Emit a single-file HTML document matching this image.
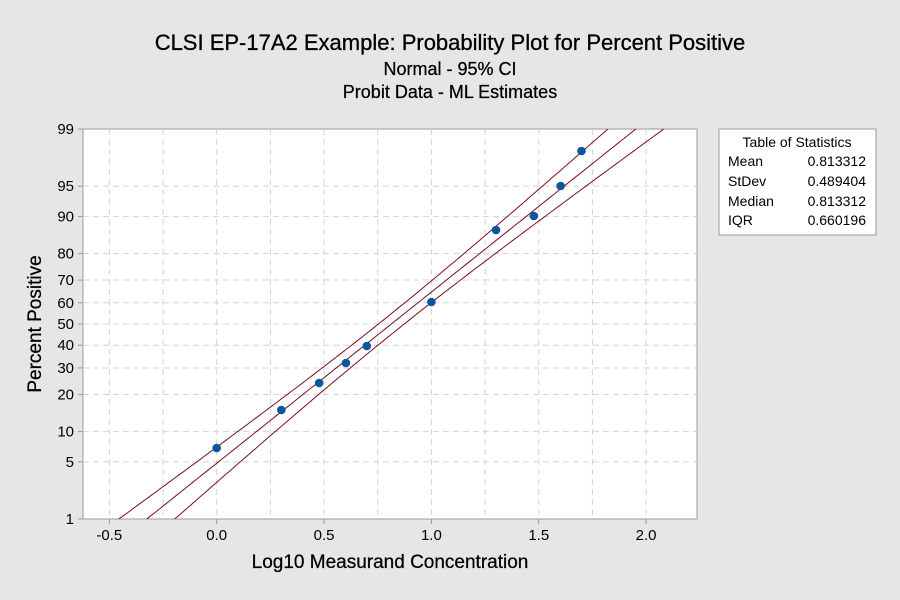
<!DOCTYPE html>
<html><head><meta charset="utf-8"><style>
body{margin:0;background:#e6e6e6;}
svg{display:block;font-family:"Liberation Sans",sans-serif;}
</style></head><body>
<svg id="s" width="900" height="600" xmlns="http://www.w3.org/2000/svg">
<rect width="900" height="600" fill="#e6e6e6"/>
<text x="450" y="50" font-size="22" text-anchor="middle" fill="#000" stroke="#000" stroke-width="0.3">CLSI EP-17A2 Example: Probability Plot for Percent Positive</text>
<text x="450" y="75" font-size="18" text-anchor="middle" fill="#000" stroke="#000" stroke-width="0.25">Normal - 95% CI</text>
<text x="450" y="98" font-size="18" text-anchor="middle" fill="#000" stroke="#000" stroke-width="0.25">Probit Data - ML Estimates</text>
<rect x="83" y="129" width="614" height="390" fill="#fff" stroke="#999" stroke-width="1"/>
<g id="grid" stroke="#d4d4d4" stroke-dasharray="6,4" stroke-width="1"></g>
<defs><clipPath id="c"><rect x="83" y="129" width="614" height="390"/></clipPath></defs>
<g id="lines" clip-path="url(#c)" fill="none" stroke="#7a1020" stroke-width="1"></g>
<g id="pts" fill="#0a56a0"></g>
<g id="ticks" font-size="15" fill="#000"></g>
<text x="390" y="568" font-size="19" text-anchor="middle" fill="#000" stroke="#000" stroke-width="0.25">Log10 Measurand Concentration</text>
<text transform="translate(41,324) rotate(-90)" font-size="19" text-anchor="middle" fill="#000" stroke="#000" stroke-width="0.25">Percent Positive</text>
<rect x="719" y="129" width="157" height="106" fill="#fff" stroke="#999"/>
<g font-size="14" fill="#000">
<text x="797" y="147" text-anchor="middle">Table of Statistics</text>
<text x="728" y="166">Mean</text><text x="866" y="166" text-anchor="end">0.813312</text>
<text x="728" y="186">StDev</text><text x="866" y="186" text-anchor="end">0.489404</text>
<text x="728" y="206">Median</text><text x="866" y="206" text-anchor="end">0.813312</text>
<text x="728" y="225">IQR</text><text x="866" y="225" text-anchor="end">0.660196</text>
</g>
</svg>
<script>
var NS="http://www.w3.org/2000/svg";
function el(p,t,a,txt){var e=document.createElementNS(NS,t);for(var k in a)e.setAttribute(k,a[k]);if(txt!=null)e.textContent=txt;document.getElementById(p).appendChild(e);return e;}
function px(x){return 216.7+214.7*x;}
function py(z){return 324-83.8*z;}
var yt=[[99,2.3263],[95,1.6449],[90,1.2816],[80,0.8416],[70,0.5244],[60,0.2533],[50,0],[40,-0.2533],[30,-0.5244],[20,-0.8416],[10,-1.2816],[5,-1.6449],[1,-2.3263]];
yt.forEach(function(t){var y=py(t[1]);
 if(t[0]!=99&&t[0]!=1)el("grid","line",{x1:83,x2:697,y1:y,y2:y});
 el("ticks","line",{x1:78,x2:83,y1:y,y2:y,stroke:"#999"});
 el("ticks","text",{x:74,y:y+5,"text-anchor":"end"},t[0]);});
for(var i=0;i<11;i++){var xv=-0.5+0.25*i;var x=px(xv);if(x>697)break;
 el("grid","line",{x1:x,x2:x,y1:129,y2:519});
 if(i%2==0){el("ticks","line",{x1:x,x2:x,y1:519,y2:524,stroke:"#999"});
 el("ticks","text",{x:x,y:540,"text-anchor":"middle"},xv.toFixed(1));}}
var m=0.813312,s=0.489404;
["f","u","l"].forEach(function(k){var d="";
 for(var z=-2.6;z<=2.6;z+=0.05){var w=Math.sqrt(0.0036+0.00246*z*z);var x=m+z*s+(k=="u"?-w:k=="l"?w:0);
 d+=(d?"L":"M")+px(x).toFixed(1)+","+py(z).toFixed(1);}
 el("lines","path",{d:d});});
var P=[[0,448],[0.301,410],[0.477,383],[0.602,363],[0.699,346],[1.0,302],[1.301,230],[1.477,216],[1.602,186],[1.699,151]];
P.forEach(function(p){el("pts","circle",{cx:px(p[0]),cy:p[1],r:4.3});});
</script>
</body></html>
